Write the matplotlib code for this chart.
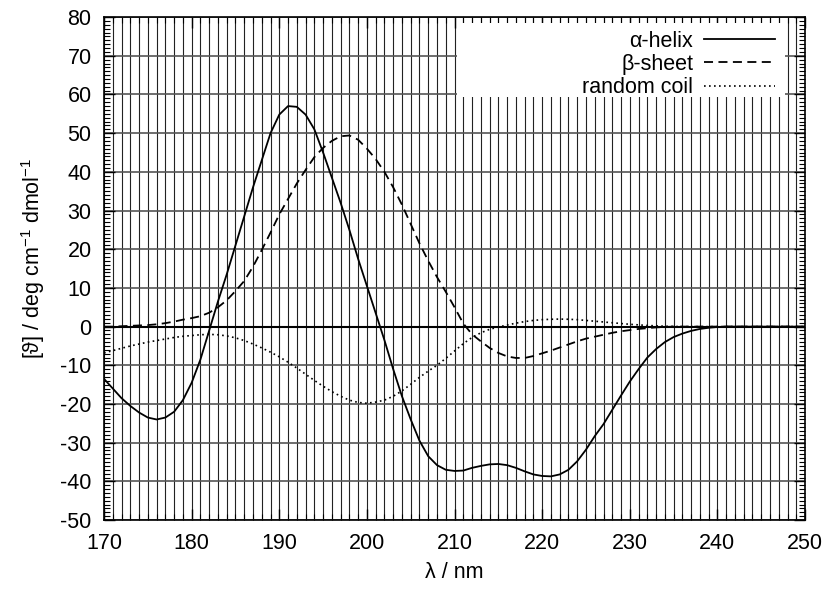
import numpy as np
import matplotlib
matplotlib.use("Agg")
import matplotlib.pyplot as plt
from matplotlib.ticker import MultipleLocator
from matplotlib.patches import Rectangle

plt.rcParams['font.family'] = ['Liberation Sans', 'DejaVu Sans']
plt.rcParams['axes.unicode_minus'] = False
plt.rcParams['mathtext.default'] = 'regular'

# wavelength grid, nm
wl = np.arange(170, 251)

# alpha-helix
helix = [-13.5, -16.0, -18.5, -20.5, -22.2, -23.5, -24.0, -23.5, -22.0, -19.0,
         -14.5, -8.5, -1.0, 6.5, 13.5, 21.0, 28.5, 36.0, 43.0, 50.0,
         54.8, 57.0, 56.8, 54.8, 51.0, 45.0, 38.5, 32.0, 25.0, 17.5,
         10.5, 3.5, -3.5, -11.0, -18.0, -24.0, -29.5, -33.5, -35.8, -37.0,
         -37.3, -37.2, -36.5, -36.0, -35.6, -35.5, -35.8, -36.5, -37.4, -38.2,
         -38.6, -38.7, -38.2, -37.0, -34.8, -31.8, -28.3, -25.2, -21.5, -17.8,
         -14.2, -11.0, -8.0, -5.8, -4.0, -2.7, -1.8, -1.1, -0.6, -0.3,
         -0.1, 0, 0, 0, 0, 0, 0, 0, 0, 0, 0]

# beta-sheet
sheet = [0.0, 0.0, 0.1, 0.2, 0.3, 0.4, 0.6, 0.9, 1.3, 1.8,
         2.2, 2.7, 3.6, 5.0, 6.8, 9.2, 11.8, 15.5, 19.8, 24.3,
         29.0, 33.0, 37.0, 40.5, 43.8, 46.2, 48.0, 49.2, 49.4, 48.3,
         46.0, 43.3, 40.0, 36.0, 31.5, 26.5, 21.5, 17.0, 12.8, 9.0,
         5.0, 0.8, -2.0, -3.8, -5.5, -6.8, -7.7, -8.1, -8.1, -7.6,
         -6.9, -6.2, -5.4, -4.6, -3.8, -3.1, -2.6, -2.1, -1.6, -1.2,
         -0.9, -0.6, -0.4, -0.2, -0.1, 0, 0, 0, 0, 0,
         0, 0, 0, 0, 0, 0, 0, 0, 0, 0, 0]

# random coil
coil = [-6.8, -6.2, -5.6, -5.0, -4.5, -4.0, -3.6, -3.2, -2.8, -2.5,
        -2.3, -2.1, -2.0, -2.1, -2.4, -2.9, -3.6, -4.5, -5.5, -6.6,
        -7.8, -9.2, -10.7, -12.3, -13.9, -15.4, -16.8, -18.0, -19.0, -19.6,
        -19.8, -19.5, -19.0, -18.0, -16.6, -14.9, -13.1, -11.5, -10.0, -8.2,
        -6.3, -4.4, -2.8, -1.6, -0.7, -0.1, 0.4, 0.9, 1.3, 1.6,
        1.8, 1.9, 1.95, 1.9, 1.8, 1.6, 1.4, 1.2, 1.0, 0.8,
        0.6, 0.45, 0.3, 0.2, 0.1, 0.05, 0, 0, 0, 0,
        0, 0, 0, 0, 0, 0, 0, 0, 0, 0, 0]

fig = plt.figure(figsize=(8.29, 5.89), dpi=100)
ax = fig.add_axes([0.1255, 0.117, 0.8456, 0.854])

ax.set_xlim(170, 250)
ax.set_ylim(-50, 80)

ax.xaxis.set_major_locator(MultipleLocator(10))
ax.xaxis.set_minor_locator(MultipleLocator(1))
ax.yaxis.set_major_locator(MultipleLocator(10))
ax.yaxis.set_minor_locator(MultipleLocator(1))

# grid: every nm vertically, every 10 horizontally
ax.grid(True, which='minor', axis='x', color='#222222', lw=0.8)
ax.grid(True, which='major', axis='x', color='#222222', lw=0.8)
ax.grid(True, which='major', axis='y', color='#555555', lw=1.2)
ax.set_axisbelow(True)

ax.axhline(0, color='black', lw=1.5, zorder=2)

ax.plot(wl, helix, color='black', lw=1.3, ls='-', label='α-helix', zorder=3)
ax.plot(wl, sheet, color='black', lw=1.3, ls=(0, (5, 3)), label='β-sheet', zorder=3)
ax.plot(wl, coil, color='black', lw=1.2, ls=(0, (1, 2)), label='random coil', zorder=3)

ax.tick_params(which='both', direction='in', top=True, right=True, labelsize=15.5,
               color='black')
ax.tick_params(which='major', length=8, width=1)
ax.tick_params(which='minor', length=4, width=0.8)
ax.tick_params(axis='x', pad=9)
ax.tick_params(axis='y', pad=9)

for s in ax.spines.values():
    s.set_linewidth(1.2)
    s.set_zorder(6)

ax.set_xlabel('λ / nm', fontsize=15.5, labelpad=6)
ax.set_ylabel('[ϑ] / deg cm$^{-1}$ dmol$^{-1}$', fontsize=15.5)
ax.yaxis.set_label_coords(-0.082, 0.52)

# white key box, gnuplot style (top ticks stay visible)
ax.add_patch(Rectangle((0.5036, 0.841), 0.468, 0.148, transform=ax.transAxes,
                       facecolor='white', edgecolor='none', zorder=4))

leg = ax.legend(loc='upper right', markerfirst=False, frameon=False, fontsize=15.5,
                handlelength=3.3, handletextpad=0.5, labelspacing=0.1,
                borderpad=0.45, borderaxespad=0,
                bbox_to_anchor=(0.971, 0.992))
for t in leg.get_texts():
    t.set_ha('right')
leg.set_zorder(5)

fig.savefig('out.png', dpi=100)
